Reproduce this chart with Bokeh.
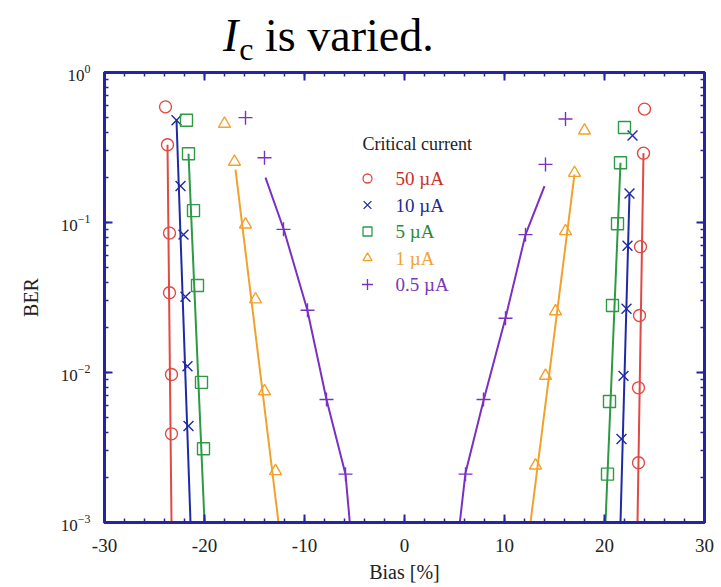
import numpy as np
from bokeh.plotting import figure
from bokeh.layouts import column
from bokeh.models import (LinearAxis, LogAxis, Label, SingleIntervalTicker,
                          LogTicker, CustomJSTickFormatter, Range1d, Div)
from bokeh.embed import file_html
from bokeh.resources import INLINE

# BER measured against bias for several critical currents (both bias polarities)
labels = ["50 µA", "10 µA", "5 µA", "1 µA", "0.5 µA"]
markers = ["circle", "x", "square", "triangle", "cross"]
marker_sizes = [12, 14, 12, 12, 14]
colors = ["#e04a44", "#1f2aa6", "#2e9a44", "#f2a12c", "#7a30c2"]
text_colors = ["#c8322c", "#1f2a96", "#2a8a3c", "#f0a43a", "#7a38b8"]

bias_50 = [-23.9, -23.7, -23.5, -23.5, -23.3, -23.3, 24.0, 23.9, 23.6, 23.5, 23.4, 23.4]
ber_50 = [0.59, 0.33, 0.085, 0.034, 0.0097, 0.0039, 0.57, 0.29, 0.069, 0.024, 0.0079, 0.0025]

bias_10 = [-22.8, -22.4, -22.1, -21.9, -21.7, -21.6, 22.8, 22.5, 22.3, 22.2, 21.9, 21.7]
ber_10 = [0.48, 0.175, 0.083, 0.032, 0.011, 0.0044, 0.38, 0.156, 0.070, 0.0266, 0.0095, 0.0036]

bias_5 = [-21.8, -21.6, -21.1, -20.7, -20.3, -20.1, 22.0, 21.6, 21.3, 20.8, 20.5, 20.3]
ber_5 = [0.48, 0.287, 0.12, 0.038, 0.0086, 0.0031, 0.43, 0.25, 0.098, 0.028, 0.0064, 0.0021]

bias_1 = [-18.0, -17.0, -15.9, -14.9, -14.0, -12.9, 18.0, 17.0, 16.1, 15.1, 14.1, 13.1]
ber_1 = [0.455, 0.254, 0.097, 0.0307, 0.0075, 0.0022, 0.41, 0.214, 0.0875, 0.0256, 0.0095, 0.0024]

bias_05 = [-15.9, -14.0, -12.1, -9.7, -7.8, -5.9, 16.1, 14.1, 12.1, 10.1, 7.9, 6.1]
ber_05 = [0.50, 0.27, 0.090, 0.026, 0.0066, 0.0021, 0.49, 0.244, 0.083, 0.023, 0.0066, 0.0021]

# fitted curves, negative and positive bias branches
fit_50 = ([-23.7, -23.3], [0.33, 0.001], [23.9, 23.3], [0.29, 0.001])
fit_10 = ([-22.8, -21.4], [0.48, 0.001], [22.5, 21.6], [0.156, 0.001])
fit_5 = ([-21.6, -20.0], [0.287, 0.001], [21.6, 20.1], [0.25, 0.001])
fit_1 = ([-16.9, -12.6], [0.225, 0.001], [17.0, 12.6], [0.209, 0.001])
fit_05 = ([-13.9, -12.07, -9.73, -7.8, -5.9, -5.47],
          [0.199, 0.0898, 0.0263, 0.0066, 0.0021, 0.001],
          [14.0, 12.1, 10.1, 7.93, 6.1, 5.53],
          [0.175, 0.083, 0.0231, 0.0066, 0.00214, 0.001])

bias_sets = [bias_50, bias_10, bias_5, bias_1, bias_05]
ber_sets = [ber_50, ber_10, ber_5, ber_1, ber_05]
fit_sets = [fit_50, fit_10, fit_5, fit_1, fit_05]

SERIF = "Liberation Serif"
FRAME = "#2424a4"

W = 721
HEAD = 60
H = 587 - HEAD
LEFT, RIGHT, TOP, BOTTOM = 104, 17, 12, 65

p = figure(width=W, height=H, output_backend="svg", toolbar_location=None,
           y_axis_type="log", x_range=Range1d(-30, 30), y_range=Range1d(1e-3, 1),
           min_border_left=LEFT, min_border_right=RIGHT,
           min_border_top=TOP, min_border_bottom=BOTTOM,
           x_axis_location=None, y_axis_location=None)
p.grid.visible = False
p.outline_line_color = FRAME
p.outline_line_width = 3
p.background_fill_color = "white"
p.border_fill_color = "white"

blank = CustomJSTickFormatter(code="return ''")
plain = CustomJSTickFormatter(code="return tick.toString()")


def style_axis(ax, labelled):
    ax.axis_line_color = FRAME
    ax.axis_line_width = 3
    ax.major_tick_line_color = FRAME
    ax.minor_tick_line_color = FRAME
    ax.major_tick_line_width = 2
    ax.minor_tick_line_width = 1.5
    ax.major_tick_in = 8
    ax.major_tick_out = 0
    ax.minor_tick_in = 4
    ax.minor_tick_out = 0
    ax.major_label_text_font = SERIF
    ax.major_label_text_font_size = "19px"
    ax.major_label_text_color = "#222222"
    ax.axis_label_text_font = SERIF
    ax.axis_label_text_font_size = "20px"
    ax.axis_label_text_font_style = "normal"
    ax.axis_label_text_color = "#222222"
    if not labelled:
        ax.formatter = blank
        ax.major_label_standoff = 0


bottom = LinearAxis(ticker=SingleIntervalTicker(interval=10, num_minor_ticks=5),
                    axis_label="Bias [%]", formatter=plain)
style_axis(bottom, True)
bottom.major_label_standoff = 16
bottom.axis_label_standoff = 6
top = LinearAxis(ticker=SingleIntervalTicker(interval=10, num_minor_ticks=5))
style_axis(top, False)

left = LogAxis(ticker=LogTicker(num_minor_ticks=10), axis_label="BER")
style_axis(left, True)
left.major_label_text_font_size = "17px"
left.major_label_standoff = 14
left.axis_label_standoff = 16
right = LogAxis(ticker=LogTicker(num_minor_ticks=10))
style_axis(right, False)

p.add_layout(bottom, "below")
p.add_layout(top, "above")
p.add_layout(left, "left")
p.add_layout(right, "right")

for bias, ber, fit, mk, ms, col in zip(bias_sets, ber_sets, fit_sets, markers,
                                       marker_sizes, colors):
    p.line(fit[0], fit[1], line_color=col, line_width=2)
    p.line(fit[2], fit[3], line_color=col, line_width=2)
    p.scatter(bias, ber, marker=mk, size=ms, fill_color=None,
              line_color=col, line_width=1.4)

# legend block, placed in pixel space inside the frame
FRAME_TOP = HEAD + TOP
FH = H - TOP - BOTTOM
FRAME_BOTTOM = 587 - BOTTOM


def page_to_data(px, py):
    bx = -30 + 60 * (px - LEFT) / (W - LEFT - RIGHT)
    by = 10 ** (-3 * (py - FRAME_TOP) / FH)
    return bx, by


p.add_layout(Label(x=362 - LEFT, y=FRAME_BOTTOM - 143, x_units="screen", y_units="screen",
                   text="Critical current", text_font=SERIF, text_font_size="18px",
                   text_color="#222222", text_baseline="middle"))
rows = [178, 204.5, 231, 257.5, 284]
for lab, mk, ms, col, tc, ry in zip(labels, markers, marker_sizes, colors, text_colors, rows):
    mx, my = page_to_data(367, ry)
    p.scatter([mx], [my], marker=mk, size=ms - 3, fill_color=None, line_color=col,
              line_width=1.3)
    p.add_layout(Label(x=395 - LEFT, y=FRAME_BOTTOM - ry, x_units="screen", y_units="screen",
                       text=lab, text_font=SERIF, text_font_size="19px",
                       text_color=tc, text_baseline="middle"))

# heading: italic I with subscript c
head = Div(
    text=("<div style=\"position:absolute; left:223px; top:13px; white-space:nowrap; "
          "font-family:'Liberation Serif'; font-size:46px; line-height:1; color:black\">"
          "<i>I</i><span style=\"font-size:32px; position:relative; top:9px; "
          "margin-left:1px\">c</span> is varied.</div>"),
    width=W, height=HEAD, margin=0,
    styles={"position": "relative", "overflow": "visible"})

layout = column(head, p, spacing=0)
open("out.html", "w").write(file_html(layout, INLINE))
